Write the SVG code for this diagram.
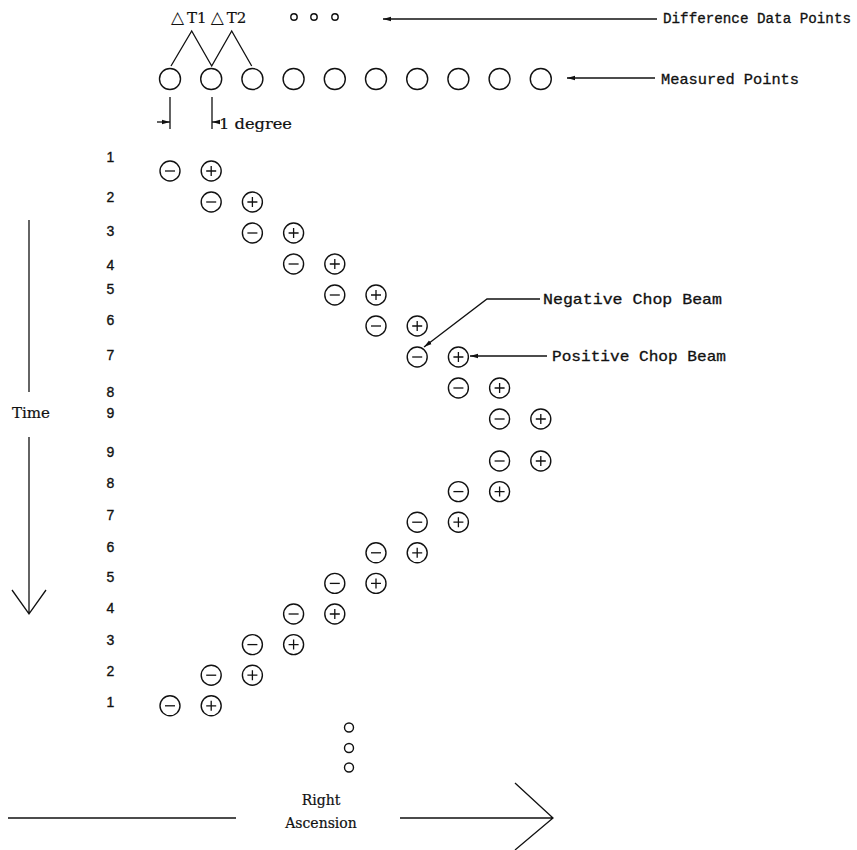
<svg xmlns="http://www.w3.org/2000/svg" width="857" height="850" viewBox="0 0 857 850">
<style>
.ln{stroke:#111;stroke-width:1.3;fill:none}
.c{stroke:#111;stroke-width:1.4;fill:#fff}
.mono{font-family:"Liberation Mono","Courier New",monospace;font-size:15px;fill:#111;stroke:#111;stroke-width:0.3}
.mono14{font-family:"Liberation Mono","Courier New",monospace;font-size:14px;fill:#111;stroke:#111;stroke-width:0.3}
.serif{font-family:"DejaVu Serif","Liberation Serif",serif;font-size:14px;fill:#111;stroke:#111;stroke-width:0.2}
.serif15{font-family:"DejaVu Serif","Liberation Serif",serif;font-size:15px;fill:#111;stroke:#111;stroke-width:0.2}
.tri{font-family:"DejaVu Sans","Noto Sans",sans-serif;font-size:17px;fill:#111}
.num{font-family:"Liberation Sans",Arial,sans-serif;font-size:14px;fill:#111;stroke:#111;stroke-width:0.35;text-anchor:middle}
</style>
<defs>
<marker id="ah" viewBox="0 0 8 6" refX="8" refY="3" markerWidth="8" markerHeight="6" markerUnits="userSpaceOnUse" orient="auto">
<path d="M0,0.8 L8,3 L0,5.2 Z" fill="#111"/>
</marker>
<g id="neg"><circle class="c" r="10"/><path class="ln" d="M-5,0 H5"/></g>
<g id="pos"><circle class="c" r="10"/><path class="ln" d="M-5,0 H5 M0,-5 V5"/></g>
</defs>

<g id="difference-points">
<text x="171" y="23"><tspan class="tri">△</tspan><tspan class="serif15" dx="3">T1</tspan><tspan class="tri" dx="4">△</tspan><tspan class="serif15" dx="3">T2</tspan></text>
<circle class="c" cx="294" cy="17" r="3.2"/>
<circle class="c" cx="314" cy="17" r="3.2"/>
<circle class="c" cx="335" cy="17" r="3.2"/>
<text class="mono14" x="663" y="23" textLength="188" lengthAdjust="spacingAndGlyphs">Difference Data Points</text>
</g>

<g id="measured-points">
<circle class="c" cx="170" cy="79" r="10.5"/>
<circle class="c" cx="211.2" cy="79" r="10.5"/>
<circle class="c" cx="252.4" cy="79" r="10.5"/>
<circle class="c" cx="293.6" cy="79" r="10.5"/>
<circle class="c" cx="334.8" cy="79" r="10.5"/>
<circle class="c" cx="376" cy="79" r="10.5"/>
<circle class="c" cx="417.2" cy="79" r="10.5"/>
<circle class="c" cx="458.4" cy="79" r="10.5"/>
<circle class="c" cx="499.6" cy="79" r="10.5"/>
<circle class="c" cx="540.8" cy="79" r="10.5"/>
<text class="mono" x="661" y="84" textLength="138" lengthAdjust="spacingAndGlyphs">Measured Points</text>
</g>

<g id="degree-scale">
<text class="serif" x="219" y="129" textLength="73" lengthAdjust="spacingAndGlyphs">1 degree</text>
</g>

<g id="row-labels">
<text class="num" x="110.5" y="162">1</text>
<text class="num" x="110.5" y="202">2</text>
<text class="num" x="110.5" y="236">3</text>
<text class="num" x="110.5" y="270">4</text>
<text class="num" x="110.5" y="294">5</text>
<text class="num" x="110.5" y="325">6</text>
<text class="num" x="110.5" y="360">7</text>
<text class="num" x="110.5" y="397">8</text>
<text class="num" x="110.5" y="418">9</text>
<text class="num" x="110.5" y="457">9</text>
<text class="num" x="110.5" y="488">8</text>
<text class="num" x="110.5" y="520">7</text>
<text class="num" x="110.5" y="552">6</text>
<text class="num" x="110.5" y="582">5</text>
<text class="num" x="110.5" y="613">4</text>
<text class="num" x="110.5" y="645">3</text>
<text class="num" x="110.5" y="676">2</text>
<text class="num" x="110.5" y="707">1</text>
</g>

<g id="chop-beams">
<use href="#neg" x="170" y="171"/><use href="#pos" x="211.2" y="171"/>
<use href="#neg" x="211.2" y="202"/><use href="#pos" x="252.4" y="202"/>
<use href="#neg" x="252.4" y="233"/><use href="#pos" x="293.6" y="233"/>
<use href="#neg" x="293.6" y="264"/><use href="#pos" x="334.8" y="264"/>
<use href="#neg" x="334.8" y="295"/><use href="#pos" x="376" y="295"/>
<use href="#neg" x="376" y="326"/><use href="#pos" x="417.2" y="326"/>
<use href="#neg" x="417.2" y="357"/><use href="#pos" x="458.4" y="357"/>
<use href="#neg" x="458.4" y="388"/><use href="#pos" x="499.6" y="388"/>
<use href="#neg" x="499.6" y="419"/><use href="#pos" x="540.8" y="419"/>
<use href="#neg" x="499.6" y="461"/><use href="#pos" x="540.8" y="461"/>
<use href="#neg" x="458.4" y="491.6"/><use href="#pos" x="499.6" y="491.6"/>
<use href="#neg" x="417.2" y="522.2"/><use href="#pos" x="458.4" y="522.2"/>
<use href="#neg" x="376" y="552.8"/><use href="#pos" x="417.2" y="552.8"/>
<use href="#neg" x="334.8" y="583.4"/><use href="#pos" x="376" y="583.4"/>
<use href="#neg" x="293.6" y="614"/><use href="#pos" x="334.8" y="614"/>
<use href="#neg" x="252.4" y="644.6"/><use href="#pos" x="293.6" y="644.6"/>
<use href="#neg" x="211.2" y="675.2"/><use href="#pos" x="252.4" y="675.2"/>
<use href="#neg" x="170" y="705.8"/><use href="#pos" x="211.2" y="705.8"/>
</g>

<g id="continuation-dots">
<circle class="c" cx="349" cy="727.5" r="4.5"/>
<circle class="c" cx="349" cy="748" r="4.5"/>
<circle class="c" cx="349" cy="767.5" r="4.5"/>
</g>

<g id="beam-labels">
<text class="mono" x="543" y="304" textLength="179" lengthAdjust="spacingAndGlyphs">Negative Chop Beam</text>
<text class="mono" x="552" y="361" textLength="174" lengthAdjust="spacingAndGlyphs">Positive Chop Beam</text>
</g>

<g id="time-axis">
<text class="serif" x="12" y="418" textLength="38" lengthAdjust="spacingAndGlyphs">Time</text>
</g>

<g id="ra-axis">
<text class="serif" x="321" y="805" text-anchor="middle">Right</text>
<text class="serif" x="321" y="828" text-anchor="middle">Ascension</text>
</g>

<g id="connectors">
<path class="ln" d="M171,66 L191.7,31 L211.7,66 L231.7,31 L251.7,66"/>
<path class="ln" d="M657,19 H383" marker-end="url(#ah)"/>
<path class="ln" d="M655,78 H567" marker-end="url(#ah)"/>
<path class="ln" d="M170,97 V129 M212,97 V129"/>
<path class="ln" d="M157,122 H170" marker-end="url(#ah)"/>
<path class="ln" d="M220,122 H212" marker-end="url(#ah)"/>
<path class="ln" d="M540,299 H487 L424,347" marker-end="url(#ah)"/>
<path class="ln" d="M547,356 H470" marker-end="url(#ah)"/>
<path class="ln" d="M29,220 V392"/>
<path class="ln" d="M29,437 V614 M12,590 L29,614 L46,590"/>
<path class="ln" d="M8,818 H236"/>
<path class="ln" d="M400,818 H553 M515,783 L553,818 L515,850"/>
</g>
</svg>
